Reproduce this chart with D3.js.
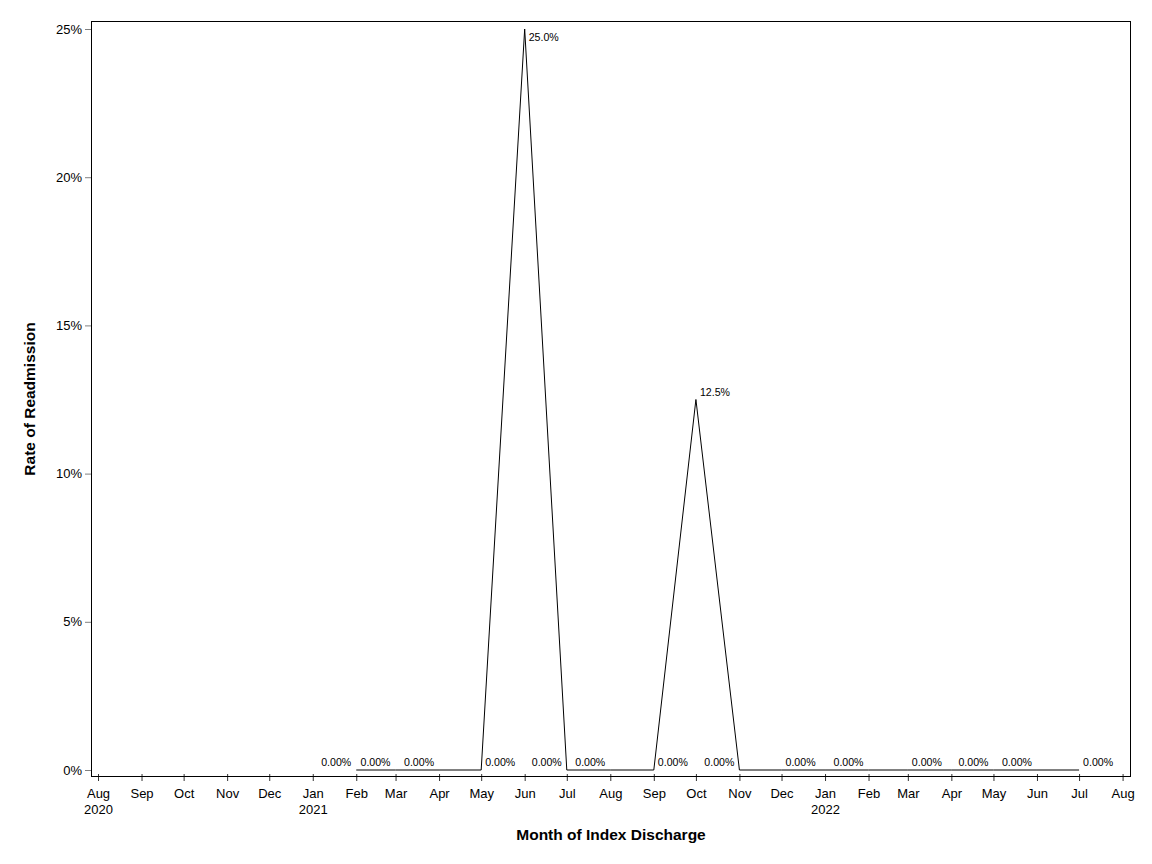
<!DOCTYPE html>
<html>
<head>
<meta charset="utf-8">
<script src="https://cdn.jsdelivr.net/npm/d3@7"></script>
<style>
  body { margin: 0; background: #fff; }
  text { font-family: "Liberation Sans", Arial, sans-serif; }
</style>
</head>
<body>
<script>
// month of index discharge (first of month) and readmission rate
var months = ['2021-02', '2021-03', '2021-04', '2021-05', '2021-06', '2021-07',
    '2021-08', '2021-09', '2021-10', '2021-11', '2021-12', '2022-01',
    '2022-02', '2022-03', '2022-04', '2022-05', '2022-06', '2022-07'];
var rates = [0, 0, 0, 0, 0.25, 0, 0, 0, 0.125, 0, 0, 0, 0, 0, 0, 0, 0, 0];
// which side of the point the data label sits on (null = label dropped)
var labelSide = ['L', 'L', 'L', 'R', 'R', 'L', 'L', 'R', 'R', 'L', 'R', null,
    'L', 'R', null, 'L', 'L', 'R'];
var yTicks = [0, 0.05, 0.10, 0.15, 0.20, 0.25];
var axisStart = '2020-08', axisEnd = '2022-08';

var width = 1152, height = 864;
var margin = {left: 91, right: 21, top: 21, bottom: 87};

var parse = d3.timeParse('%Y-%m');
var data = months.map(function (m, i) {
    return {date: parse(m), rate: rates[i], side: labelSide[i]};
});

var svg = d3.select('body').append('svg').attr('width', width).attr('height', height);

var x0 = parse(axisStart), x1 = parse(axisEnd);
var x = d3.scaleTime()
    .domain([d3.timeDay.offset(x0, -5), d3.timeDay.offset(x1, 6.4)])
    .range([margin.left, width - margin.right]);
var y = d3.scaleLinear()
    .domain([-0.00236, 0.2527])
    .range([height - margin.bottom, margin.top]);

var fmtMonth = d3.timeFormat('%b');
var fmtYear = d3.timeFormat('%Y');
var monthTicks = d3.timeMonth.range(x0, d3.timeMonth.offset(x1, 1));

// y axis (outside ticks, gray)
var yAxis = svg.append('g')
    .attr('transform', 'translate(' + margin.left + ',0)')
    .call(d3.axisLeft(y).tickValues(yTicks).tickFormat(d3.format('.0%')).tickSize(6).tickPadding(3));
yAxis.select('.domain').remove();
yAxis.selectAll('.tick line').attr('stroke', '#808080');
yAxis.selectAll('.tick text').attr('font-size', 13).attr('fill', '#000');

// x axis ticks crossing the frame line
var xAxis = svg.append('g')
    .attr('transform', 'translate(0,' + (height - margin.bottom) + ')')
    .call(d3.axisBottom(x).tickValues(monthTicks).tickFormat(fmtMonth).tickSize(4).tickPadding(8));
xAxis.select('.domain').remove();
xAxis.selectAll('.tick line').attr('y1', -3).attr('stroke', '#333');
xAxis.selectAll('.tick text').attr('font-size', 13).attr('fill', '#000')
    .each(function (d) {
        if (d.getMonth() === 0 || +d === +x0) {
            d3.select(this).append('tspan')
                .attr('x', 0).attr('dy', '1.2em').text(fmtYear(d));
        }
    });

// frame
svg.append('rect')
    .attr('x', margin.left + 0.5).attr('y', margin.top + 0.5)
    .attr('width', width - margin.left - margin.right - 1)
    .attr('height', height - margin.top - margin.bottom - 1)
    .attr('fill', 'none').attr('stroke', '#000');

// series line
var line = d3.line()
    .x(function (d) { return x(d.date); })
    .y(function (d) { return y(d.rate); });
svg.append('path')
    .datum(data)
    .attr('d', line)
    .attr('fill', 'none')
    .attr('stroke', '#000')
    .attr('stroke-width', 1);

// data labels
var fmtLabel = function (v) { return v === 0 ? '0.00%' : d3.format('.1%')(v); };
svg.append('g').selectAll('text')
    .data(data.filter(function (d) { return d.side; }))
    .enter()
    .append('text')
    .attr('x', function (d) { return x(d.date) + (d.side === 'R' ? 4 : -5); })
    .attr('y', function (d) {
        // labels near the top of the frame go below the point
        return y(d.rate) < margin.top + 30 ? y(d.rate) + 12 : y(d.rate) - 4;
    })
    .attr('text-anchor', function (d) { return d.side === 'R' ? 'start' : 'end'; })
    .attr('font-size', 10.6)
    .attr('fill', '#000')
    .text(function (d) { return fmtLabel(d.rate); });

// axis titles
svg.append('text')
    .attr('x', (margin.left + width - margin.right) / 2)
    .attr('y', 840)
    .attr('text-anchor', 'middle')
    .attr('font-size', 15.5).attr('font-weight', 'bold')
    .text('Month of Index Discharge');
svg.append('text')
    .attr('transform', 'translate(35,' + ((margin.top + height - margin.bottom) / 2) + ') rotate(-90)')
    .attr('text-anchor', 'middle')
    .attr('font-size', 15.5).attr('font-weight', 'bold')
    .text('Rate of Readmission');
</script>
</body>
</html>
